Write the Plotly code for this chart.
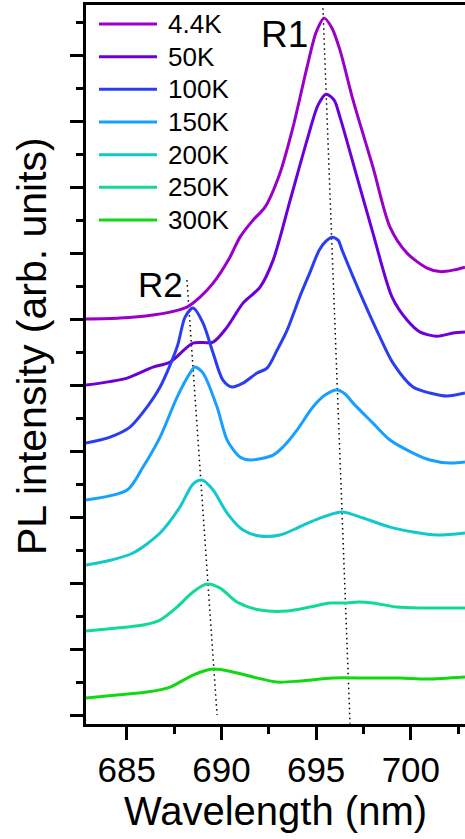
import plotly.graph_objects as go

# Temperature-dependent PL spectra, vertically offset for clarity
temps = ["4.4K", "50K", "100K", "150K", "200K", "250K", "300K"]
colors = ["#9a00c8", "#6c00d8", "#2a3ef0", "#16a0ff", "#12c8cc", "#12d89a", "#12d812"]

wl_4K = [682.85, 684.65, 686.39, 687.29, 688.18, 688.87, 689.56, 690.45, 690.98, 691.67, 692.30,
         693.09, 693.78, 694.52, 695.00, 695.42, 695.84, 696.26, 696.95, 698.00, 698.90, 699.80,
         700.86, 701.54, 702.23, 702.86]
pl_4K = [6.000, 6.015, 6.061, 6.106, 6.182, 6.333, 6.545, 6.939, 7.242, 7.500, 7.697,
         8.212, 8.909, 9.818, 10.348, 10.561, 10.409, 10.076, 9.318, 8.303, 7.394, 7.000,
         6.773, 6.720, 6.742, 6.788]

wl_50K = [682.85, 685.02, 686.39, 687.29, 688.50, 689.56, 690.30, 691.14, 692.04, 692.73, 693.63,
          694.52, 695.10, 695.52, 695.95, 696.26, 697.16, 698.00, 699.01, 699.80, 700.49, 701.38,
          702.23, 702.86]
pl_50K = [5.000, 5.106, 5.273, 5.348, 5.636, 5.652, 5.879, 6.242, 6.485, 6.894, 7.803,
          8.712, 9.242, 9.409, 9.318, 9.061, 8.152, 7.303, 6.333, 5.985, 5.803, 5.742,
          5.788, 5.803]

wl_100K = [682.85, 684.12, 685.17, 686.07, 686.76, 687.66, 688.08, 688.50, 689.03, 689.56, 690.08,
           690.56, 691.14, 691.88, 692.41, 692.94, 693.47, 694.15, 694.68, 695.16, 695.52, 695.84,
           696.16, 696.37, 697.32, 698.37, 699.06, 700.12, 701.01, 701.91, 702.86]
pl_100K = [4.121, 4.212, 4.364, 4.667, 4.970, 5.576, 6.030, 6.167, 5.939, 5.485, 5.076,
           4.970, 5.030, 5.182, 5.258, 5.530, 5.833, 6.348, 6.712, 7.045, 7.182, 7.242,
           7.197, 7.045, 6.394, 5.727, 5.333, 4.970, 4.879, 4.833, 4.879]

wl_150K = [682.85, 685.02, 685.86, 686.76, 687.66, 688.34, 688.61, 689.03, 689.77, 690.30, 690.98,
           691.51, 692.73, 693.25, 693.99, 694.83, 695.47, 696.10, 696.53, 696.95, 698.00, 698.90,
           700.12, 701.01, 702.06, 702.86]
pl_150K = [3.258, 3.409, 3.758, 4.212, 4.818, 5.182, 5.273, 5.182, 4.667, 4.167, 3.909,
           3.864, 3.939, 4.061, 4.318, 4.667, 4.848, 4.924, 4.864, 4.727, 4.424, 4.167,
           3.970, 3.864, 3.818, 3.833]

wl_200K = [682.85, 683.96, 685.33, 686.76, 687.81, 688.50, 688.98, 689.56, 690.30, 691.14, 692.04,
           693.09, 693.99, 694.68, 695.36, 696.37, 697.48, 698.90, 700.12, 701.38, 702.86]
pl_200K = [2.273, 2.333, 2.455, 2.758, 3.152, 3.500, 3.561, 3.409, 3.061, 2.803, 2.712,
           2.727, 2.833, 2.924, 3.000, 3.076, 2.985, 2.848, 2.773, 2.727, 2.758]

wl_250K = [682.85, 684.49, 685.86, 686.76, 687.66, 688.50, 689.24, 689.93, 690.82, 692.04, 693.47,
           694.68, 695.73, 696.62, 697.20, 698.00, 699.27, 700.49, 701.70, 702.86]
pl_250K = [1.273, 1.318, 1.364, 1.439, 1.636, 1.864, 1.985, 1.924, 1.712, 1.591, 1.576,
           1.636, 1.697, 1.697, 1.712, 1.697, 1.636, 1.621, 1.621, 1.621]

wl_300K = [682.85, 684.49, 686.07, 687.29, 688.50, 689.56, 690.61, 691.67, 692.94, 694.15, 695.89,
           697.69, 699.43, 700.86, 702.86]
pl_300K = [0.258, 0.303, 0.348, 0.424, 0.606, 0.697, 0.652, 0.576, 0.500, 0.515, 0.561,
           0.561, 0.561, 0.545, 0.576]

wavelengths = [wl_4K, wl_50K, wl_100K, wl_150K, wl_200K, wl_250K, wl_300K]
intensities = [pl_4K, pl_50K, pl_100K, pl_150K, pl_200K, pl_250K, pl_300K]

# Peak-position guides for the R1 and R2 lines
r1_wl = [695.36, 696.79]
r1_y = [10.71, -0.13]
r2_wl = [688.18, 689.77]
r2_y = [6.59, 0.0]

x_range = [682.85, 702.86]
y_range = [-0.136, 10.76]
FONT = "Liberation Sans, Arial, sans-serif"

fig = go.Figure()

for wl, pl in ((r1_wl, r1_y), (r2_wl, r2_y)):
    fig.add_trace(go.Scatter(x=wl, y=pl, mode="lines", showlegend=False, hoverinfo="skip",
                             line=dict(color="black", width=1.5, dash="1.5px,3.5px")))

for name, color, wl, pl in zip(temps, colors, wavelengths, intensities):
    fig.add_trace(go.Scatter(x=wl, y=pl, mode="lines", name=name, showlegend=False,
                             line=dict(color=color, width=3, shape="spline", smoothing=0.8)))

# Legend drawn as sample lines with labels in the upper-left corner
leg_top = 0.9736
leg_step = 0.04544
for i, (name, color) in enumerate(zip(temps, colors)):
    yy = leg_top - i * leg_step
    fig.add_shape(type="line", xref="paper", yref="paper", x0=0.0343, x1=0.1873, y0=yy, y1=yy,
                  line=dict(color=color, width=3))
    fig.add_annotation(xref="paper", yref="paper", x=0.211, y=yy, text=name, showarrow=False,
                       xanchor="left", yanchor="middle", font=dict(family=FONT, size=26, color="black"))

fig.add_annotation(x=693.31, y=10.32, text="R1", showarrow=False, xanchor="center", yanchor="middle",
                   font=dict(family=FONT, size=37, color="black"))
fig.add_annotation(x=686.76, y=6.52, text="R2", showarrow=False, xanchor="center", yanchor="middle",
                   font=dict(family=FONT, size=35, color="black"))

# Vertical axis title
fig.add_annotation(xref="paper", yref="paper", x=-0.1425, y=0.5257, text="PL intensity (arb. units)",
                   textangle=-90, showarrow=False, xanchor="center", yanchor="middle",
                   font=dict(family=FONT, size=41, color="black"))

fig.update_layout(
    width=465, height=839,
    margin=dict(l=86, r=0, t=5, b=115),
    paper_bgcolor="white", plot_bgcolor="white",
    font=dict(family=FONT, color="black"),
    xaxis=dict(
        range=x_range, showgrid=False, zeroline=False,
        showline=True, linecolor="black", linewidth=3, mirror=True,
        ticks="outside", ticklen=13, tickwidth=3, tickcolor="black",
        tickmode="linear", tick0=685, dtick=5,
        tickfont=dict(family=FONT, size=35, color="black"),
        minor=dict(ticks="outside", ticklen=7, tickwidth=3, tickcolor="black", dtick=2.5, tick0=682.5),
        title=dict(text="Wavelength (nm)", font=dict(family=FONT, size=40, color="black"), standoff=8),
    ),
    yaxis=dict(
        range=y_range, showgrid=False, zeroline=False,
        showline=True, linecolor="black", linewidth=3,
        ticks="outside", ticklen=13, tickwidth=3, tickcolor="black",
        tickmode="linear", tick0=0, dtick=1, showticklabels=False,
        minor=dict(ticks="outside", ticklen=7, tickwidth=3, tickcolor="black", dtick=0.5, tick0=0.5),
    ),
)

fig.write_html("out.html")
